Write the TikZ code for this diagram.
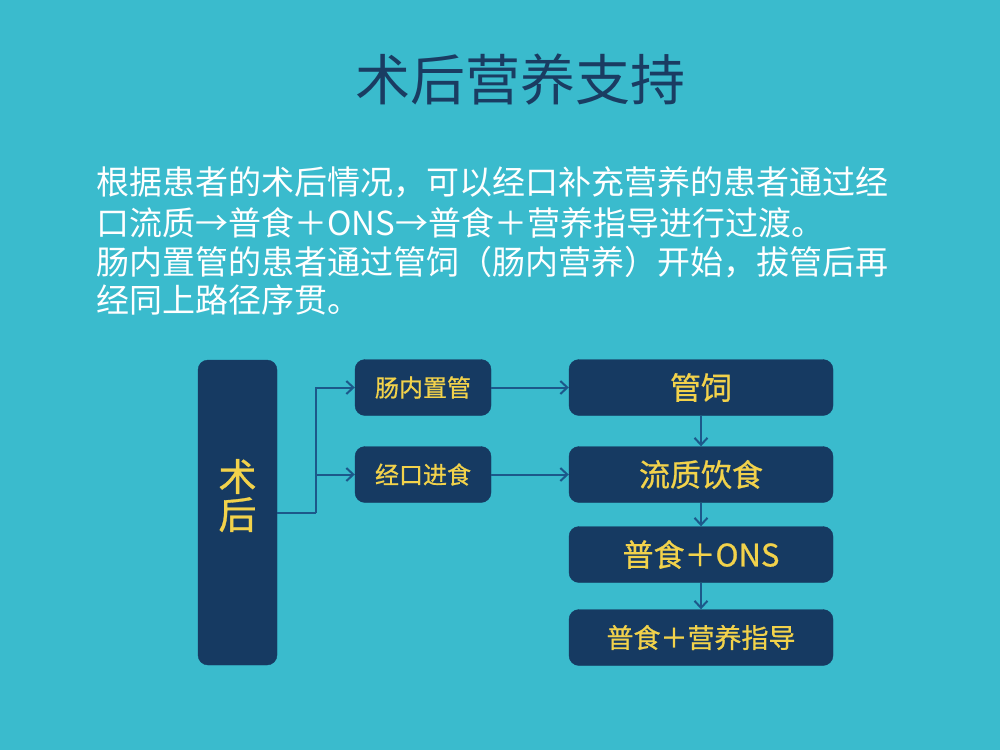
\documentclass[tikz,border=0pt]{standalone}
\usepackage{fontspec}
\setmainfont{Noto Sans CJK SC}
\newfontfamily\boxfont[FakeBold=0.8]{Noto Sans CJK SC}
\usetikzlibrary{backgrounds,arrows.meta}
\definecolor{slidebg}{RGB}{58,187,205}
\definecolor{boxnavy}{RGB}{22,58,98}
\definecolor{titlenavy}{RGB}{26,60,98}
\definecolor{boxgold}{RGB}{242,210,75}
\definecolor{linkblue}{RGB}{28,88,138}

\begin{document}
\begin{tikzpicture}[x=1pt,y=-1pt,
  background rectangle/.style={fill=slidebg}, show background rectangle, inner frame sep=0pt,
  navybox/.style={fill=boxnavy,draw=boxnavy,rounded corners=10pt,text=boxgold,inner sep=0pt},
  smallbox/.style={navybox,minimum width=136pt,minimum height=56pt,font=\boxfont\fontsize{24}{28}\selectfont},
  widebox/.style={navybox,minimum width=264pt,minimum height=56pt,font=\boxfont\fontsize{31}{36}\selectfont},
  bodyline/.style={anchor=west,inner sep=0pt,text=white,font=\fontsize{33}{39}\selectfont},
  flow/.style={draw=linkblue,line width=2pt,-{Straight Barb[length=7pt,width=13pt,line width=2pt]}}]
  \useasboundingbox (0,0) rectangle (1000,750);
  \node[text=titlenavy,inner sep=0pt,font=\fontsize{55}{60}\selectfont] (title) at (520,80) {术后营养支持};
  \node[bodyline] (lineA) at (96,182) {根据患者的术后情况，可以经口补充营养的患者通过经};
  \node[bodyline] (lineB) at (96,223) {口流质→普食＋ONS→普食＋营养指导进行过渡。};
  \node[bodyline] (lineC) at (96,262) {肠内置管的患者通过管饲（肠内营养）开始，拔管后再};
  \node[bodyline] (lineD) at (96,300) {经同上路径序贯。};

  \node[navybox,minimum width=79pt,minimum height=305pt,
    label={[text=boxgold,align=center,yshift=17pt,font=\boxfont\fontsize{38}{38}\selectfont]center:{术\\后}}] (postop) at (237.5,512.5) {};
  \node[smallbox] (tube) at (423,387.5) {肠内置管};
  \node[smallbox] (oral) at (423,474.5) {经口进食};
  \node[widebox] (feed) at (701,387.5) {管饲};
  \node[widebox] (liquid) at (701,474.5) {流质饮食};
  \node[widebox] (ons) at (701,554.5) {普食＋ONS};
  \node[widebox,font=\boxfont\fontsize{27}{32}\selectfont] (guide) at (701,637.5) {普食＋营养指导};

  \coordinate (fork) at (316,512.5);
  \draw[draw=linkblue,line width=2pt] (postop.east) -- (fork);
  \draw[flow] (fork) |- (tube.west);
  \draw[flow] (fork) |- (oral.west);
  \draw[flow] (tube) -- (feed);
  \draw[flow] (oral) -- (liquid);
  \draw[flow] (feed) -- (liquid);
  \draw[flow] (liquid) -- (ons);
  \draw[flow] (ons) -- (guide);
\end{tikzpicture}
\end{document}
